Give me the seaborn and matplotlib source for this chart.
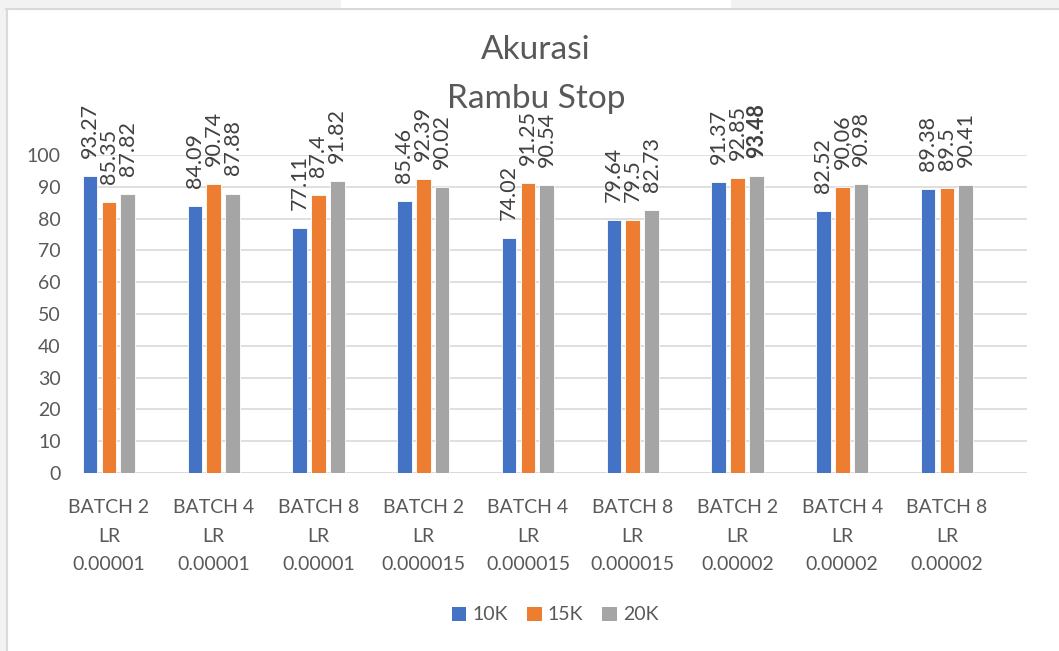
import numpy as np
import pandas as pd
import matplotlib
matplotlib.use('AGG')
import matplotlib.pyplot as plt
import seaborn as sns
from matplotlib.patches import Rectangle

categories = ['BATCH 2\nLR\n0.00001', 'BATCH 4\nLR\n0.00001', 'BATCH 8\nLR\n0.00001',
              'BATCH 2\nLR\n0.000015', 'BATCH 4\nLR\n0.000015', 'BATCH 8\nLR\n0.000015',
              'BATCH 2\nLR\n0.00002', 'BATCH 4\nLR\n0.00002', 'BATCH 8\nLR\n0.00002']
series = ['10K', '15K', '20K']
acc_10k = [93.27, 84.09, 77.11, 85.46, 74.02, 79.64, 91.37, 82.52, 89.38]
acc_15k = [85.35, 90.74, 87.4, 92.39, 91.25, 79.5, 92.85, 90.06, 89.5]
acc_20k = [87.82, 87.88, 91.82, 90.02, 90.54, 82.73, 93.48, 90.98, 90.41]
# label texts as shown in the chart (one uses a comma)
labels_10k = ['93.27', '84.09', '77.11', '85.46', '74.02', '79.64', '91.37', '82.52', '89.38']
labels_15k = ['85.35', '90.74', '87.4', '92.39', '91.25', '79.5', '92.85', '90,06', '89.5']
labels_20k = ['87.82', '87.88', '91.82', '90.02', '90.54', '82.73', '93.48', '90.98', '90.41']

colors = ['#4472C4', '#ED7D31', '#A5A5A5']
text_col = '#595959'

df = pd.DataFrame({
    'config': categories * 3,
    'model': [s for s in series for _ in categories],
    'acc': acc_10k + acc_15k + acc_20k,
})

sns.set_style('white')
plt.rcParams['font.family'] = ['Lato', 'DejaVu Sans']

fig = plt.figure(figsize=(10.59, 6.51), dpi=100)
fig.patch.set_facecolor('white')
# screenshot frame
fig.patches.append(Rectangle((0, 1 - 9 / 651), 1, 9 / 651, transform=fig.transFigure,
                             facecolor='#f2f2f2', edgecolor='none', zorder=-5))
fig.patches.append(Rectangle((0, 0), 6 / 1059, 1, transform=fig.transFigure,
                             facecolor='#f2f2f2', edgecolor='none', zorder=-5))
fig.patches.append(Rectangle((341 / 1059, 1 - 8 / 651), 390 / 1059, 8 / 651, transform=fig.transFigure,
                             facecolor='white', edgecolor='none', zorder=-4))
fig.lines.append(plt.Line2D([6 / 1059, 1], [1 - 9 / 651, 1 - 9 / 651], transform=fig.transFigure,
                            color='#d9d9d9', lw=1.5))
fig.lines.append(plt.Line2D([6.5 / 1059, 6.5 / 1059], [0, 1 - 9 / 651], transform=fig.transFigure,
                            color='#d9d9d9', lw=1.5))

ax = fig.add_axes([83 / 1059, 178 / 651, (1027 - 83) / 1059, (496 - 178) / 651])
sns.barplot(data=df, x='config', y='acc', hue='model', palette=colors, saturation=1, ax=ax,
            width=0.54, gap=0.22, edgecolor='white', linewidth=0.6, legend=True, zorder=3)

ax.set_xlim(-0.248, 8.764)
ax.set_ylim(0, 100)
ax.set_yticks(range(0, 101, 10))
ax.yaxis.grid(True, color='#d9d9d9', lw=1.2, zorder=0)
ax.set_axisbelow(True)
for s in ax.spines.values():
    s.set_visible(False)
ax.axhline(0, color='#d9d9d9', lw=1.2, zorder=1)
ax.set_xlabel('')
ax.set_ylabel('')
ax.tick_params(axis='both', length=0, labelsize=14, labelcolor=text_col)
ax.tick_params(axis='y', pad=16)
ax.tick_params(axis='x', pad=19)
for t in ax.get_xticklabels():
    t.set_linespacing(1.8)

all_labels = [labels_10k, labels_15k, labels_20k]
for cont, labs in zip(ax.containers, all_labels):
    for bar, lab in zip(cont, labs):
        bold = lab == '93.48'
        ax.annotate(lab, (bar.get_x() + bar.get_width() / 2, bar.get_height()),
                    xytext=(0, 13), textcoords='offset points', rotation=90,
                    ha='center', va='bottom', fontsize=15.5, color='#404040',
                    fontweight='bold' if bold else 'normal', annotation_clip=False)

fig.text(0.506, 1 - 50 / 651, 'Akurasi', ha='center', va='center', fontsize=24, color=text_col)
fig.text(0.506, 1 - 99 / 651, 'Rambu Stop', ha='center', va='center', fontsize=24, color=text_col)

handles, labs = ax.get_legend_handles_labels()
ax.legend(handles, labs, loc='center', bbox_to_anchor=(0.5, (473 - 615) / 318),
          ncol=3, frameon=False, fontsize=14, labelcolor=text_col,
          handlelength=0.75, handleheight=0.75, handletextpad=0.3, columnspacing=1.0)
for h in ax.get_legend().legend_handles:
    h.set_edgecolor('none')

fig.savefig('out.png', dpi=100)
